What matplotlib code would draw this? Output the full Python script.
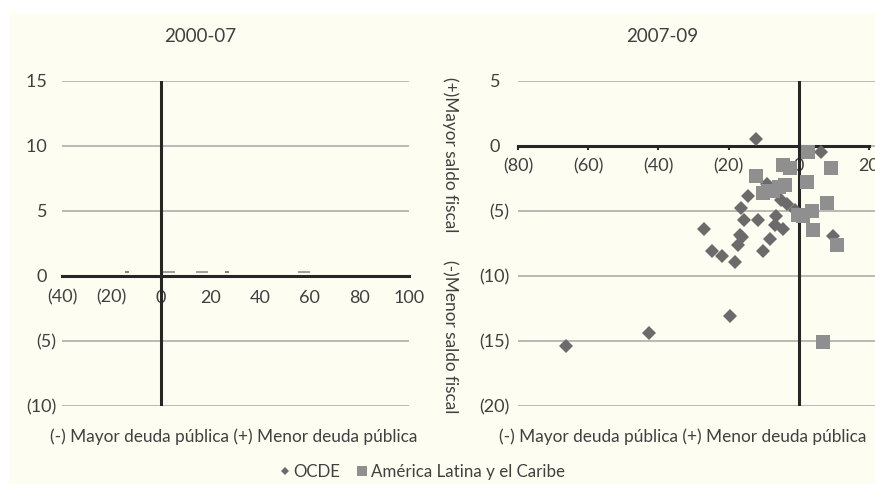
import matplotlib.pyplot as plt
from matplotlib.lines import Line2D
from matplotlib.patches import Rectangle

plt.rcParams['font.family'] = ['Lato', 'DejaVu Sans']

# 2007-09 panel: debt change (x) vs fiscal balance change (y)
ocde_x = [-12.1, 6.2, -26.9, -24.7, -21.8, -18.3, -14.5, -16.4, -15.6, -11.6, -16.9, -16.2, -17.3,
          -10.2, -8.3, -6.4, -6.9, -4.5, -5.2, -3.3, -1.1, -9.2, -19.7, -42.6, -66.4, 9.8]
ocde_y = [0.5, -0.5, -6.4, -8.1, -8.5, -8.95, -3.85, -4.8, -5.7, -5.7, -6.85, -7.0, -7.6,
          -8.1, -7.15, -5.4, -6.1, -6.4, -4.2, -4.5, -4.9, -2.9, -13.1, -14.4, -15.4, -6.9]
lac_x = [2.7, -4.5, -2.6, 9.3, -12.1, 2.2, -4.0, -10.2, -7.3, -5.6, -8.8, 7.9, 3.8, 1.2, -0.3, 4.1, 10.8, 6.9]
lac_y = [-0.44, -1.46, -1.7, -1.7, -2.3, -2.75, -3.0, -3.6, -3.5, -3.2, -3.5, -4.4, -5.05, -5.4, -5.3, -6.5, -7.6, -15.1]

# 2000-07 panel: marks squashed onto the zero line
ocde00_x = [-13.9, 26.6]
ocde00_y = [0.3, 0.3]
lac00_x = [3.2, 16.5, 57.5]
lac00_y = [0.3, 0.3, 0.3]

left_xticks = [-40, -20, 0, 20, 40, 60, 80, 100]
left_xlabels = ['(40)', '(20)', '0', '20', '40', '60', '80', '100']
left_yticks = [15, 10, 5, 0, -5, -10]
left_ylabels = ['15  ', '10  ', '5  ', '0  ', '(5)', '(10)']
right_xticks = [-80, -60, -40, -20, 0, 20]
right_xlabels = ['(80)', '(60)', '(40)', '(20)', '0', '20']
right_yticks = [5, 0, -5, -10, -15, -20]
right_ylabels = ['5  ', '0  ', '(5)', '(10)', '(15)', '(20)']

dark = '#262626'
txt = '#404040'
grid = '#a6a6a6'
c_ocde = '#6b6b6b'
c_lac = '#8f8f8f'

fig = plt.figure(figsize=(8.75, 4.84), dpi=100, facecolor='white')
fig.patches.append(Rectangle((9 / 875, 0), 1, 1 - 12.7 / 484, transform=fig.transFigure,
                             facecolor='#fefdf1', edgecolor='none', zorder=-5))

axl = fig.add_axes([62 / 875, 0.1612, 347 / 875, 0.672])
axr = fig.add_axes([518 / 875, 0.1612, 357 / 875, 0.672])

for ax in (axl, axr):
    ax.set_facecolor('none')
    for s in ['left', 'top', 'right']:
        ax.spines[s].set_visible(False)
    ax.spines['bottom'].set_position(('data', 0))
    ax.spines['bottom'].set_color(dark)
    ax.spines['bottom'].set_linewidth(2.2)
    ax.yaxis.grid(True, color=grid, lw=1.1)
    ax.axvline(0, color=dark, lw=2.2, zorder=2)
    ax.tick_params(axis='y', length=0, labelsize=13, labelcolor=txt)

axl.set_xlim(-40, 100)
axl.set_ylim(-10, 15)
axl.set_xticks(left_xticks, left_xlabels)
axl.set_yticks(left_yticks, left_ylabels)
axl.tick_params(axis='x', length=0, pad=10, labelsize=13, labelcolor=txt)
axl.tick_params(axis='y', pad=4)
axl.plot(ocde00_x, ocde00_y, '_', color=c_ocde, ms=3, mew=1.2, zorder=1.8)
axl.plot(lac00_x, lac00_y, '_', color=c_lac, ms=9, mew=1.2, zorder=1.8)

axr.set_xlim(-80, 21.7)
axr.set_ylim(-20, 5)
axr.spines['bottom'].set_bounds(-80, 20)
axr.set_xticks(right_xticks, right_xlabels)
axr.set_yticks(right_yticks, right_ylabels)
axr.tick_params(axis='x', length=3, width=1.5, color=dark, pad=6, labelsize=13, labelcolor=txt)
axr.tick_params(axis='y', pad=6)
axr.plot(ocde_x, ocde_y, 'D', color=c_ocde, ms=7, mew=0, zorder=3)
axr.plot(lac_x, lac_y, 's', color=c_lac, ms=10.3, mew=0, zorder=3)

fig.text(200 / 875, 1 - 37 / 484, '2000-07', ha='center', va='center', fontsize=13.5, color=txt)
fig.text(662 / 875, 1 - 37 / 484, '2007-09', ha='center', va='center', fontsize=13.5, color=txt)
lab = '(-) Mayor deuda pública (+) Menor deuda pública'
fig.text(234 / 875, 1 - 437 / 484, lab, ha='center', va='center', fontsize=12.4, color=txt)
fig.text(683 / 875, 1 - 437 / 484, lab, ha='center', va='center', fontsize=12.4, color=txt)
fig.text(450 / 875, 1 - 155 / 484, '(+)Mayor saldo fiscal', rotation=270, ha='center', va='center',
         fontsize=12.4, color=txt)
fig.text(450 / 875, 1 - 337 / 484, '(-)Menor saldo fiscal', rotation=270, ha='center', va='center',
         fontsize=12.4, color=txt)

handles = [Line2D([], [], ls='none', marker='D', color=c_ocde, ms=4.5, mew=0),
           Line2D([], [], ls='none', marker='s', color=c_lac, ms=6.5, mew=0)]
fig.legend(handles, ['OCDE', 'América Latina y el Caribe'], loc='center', ncol=2,
           bbox_to_anchor=(422 / 875, 1 - 472 / 484), frameon=False, fontsize=12.2,
           labelcolor=txt, handletextpad=0.2, columnspacing=1.0, handlelength=0.6)

fig.savefig('out.png', dpi=100)
